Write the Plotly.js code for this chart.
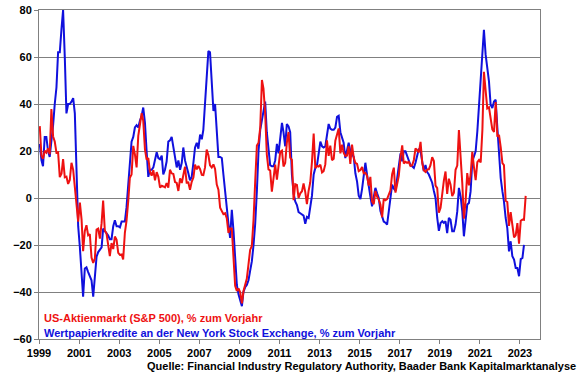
<!DOCTYPE html>
<html>
<head>
<meta charset="utf-8">
<script src="https://cdn.plot.ly/plotly-3.0.1.min.js"></script>
<style>
html,body{margin:0;padding:0;background:#fff;}
#chart{width:580px;height:375px;}
</style>
</head>
<body>
<div id="chart"></div>
<script>
// First month of both series
const startYear = 1999;
const startMonth = 1;

// US-Aktienmarkt (S&P 500), % zum Vorjahr — monthly, Jan 1999 .. Apr 2023
const spx = [
  30.6, 18.0, 16.7, 20.1, 19.3, 21.1, 18.6, 37.9, 26.2, 24.0, 19.3, 19.5,
  8.9, 10.3, 16.6, 8.8, 9.1, 6.0, 7.7, 15.0, 12.0, 4.8, -5.3, -10.1,
  -2.0, -9.2, -22.6, -14.0, -11.6, -15.9, -15.4, -25.3, -27.6, -25.8, -13.4, -13.0,
  -17.3, -10.7, -1.1, -13.9, -15.0, -19.1, -24.7, -19.2, -21.7, -16.4, -17.8, -23.3,
  -24.2, -24.0, -26.1, -14.8, -9.7, -1.5, 8.6, 10.0, 22.2, 18.6, 13.0, 26.4,
  32.1, 36.1, 32.8, 20.7, 16.3, 17.0, 11.3, 9.5, 11.9, 7.5, 11.0, 9.0,
  4.4, 5.2, 4.9, 4.5, 6.3, 4.4, 12.0, 10.5, 10.2, 6.8, 6.4, 3.0,
  8.4, 6.4, 9.7, 13.3, 6.5, 6.6, 3.5, 6.9, 8.7, 14.2, 12.2, 13.6,
  12.3, 9.8, 9.7, 13.0, 20.6, 18.3, 13.9, 13.0, 14.3, 12.4, 5.7, 3.5,
  -4.1, -5.4, -6.9, -6.5, -8.6, -14.8, -12.9, -13.0, -23.6, -37.4, -39.5, -38.5,
  -40.1, -44.8, -39.7, -37.0, -34.4, -28.2, -22.1, -20.4, -9.3, 6.9, 22.3, 23.5,
  30.0, 50.2, 46.5, 36.0, 18.5, 12.2, 11.7, 2.7, 7.9, 14.2, 7.8, 12.8,
  19.7, 20.2, 13.4, 14.9, 23.5, 28.1, 17.2, 16.2, -0.9, 5.9, 5.6, 0.0,
  2.0, 2.9, 6.2, 2.5, -2.6, 3.1, 6.7, 15.4, 27.4, 12.7, 13.6, 13.4,
  14.2, 10.9, 11.4, 14.3, 24.5, 17.9, 22.3, 16.1, 16.7, 24.4, 27.5, 29.6,
  19.0, 22.7, 19.3, 17.9, 18.0, 22.0, 14.5, 22.7, 17.2, 14.9, 14.5, 11.4,
  11.9, 13.2, 10.5, 10.7, 9.5, 5.3, 9.0, -1.5, -2.6, 3.0, 0.6, -0.7,
  -2.8, -8.2, -0.4, -1.0, -0.5, 1.7, 3.3, 10.1, 12.9, 2.3, 5.7, 9.5,
  17.5, 22.4, 14.7, 15.4, 15.0, 15.4, 13.6, 13.9, 16.2, 21.1, 20.4, 19.4,
  23.9, 14.8, 11.8, 11.1, 12.1, 12.2, 14.0, 17.4, 15.7, 5.3, 4.2, -6.2,
  -4.2, 2.6, 7.3, 11.3, 1.7, 8.2, 5.8, 0.8, 2.2, 12.0, 13.8, 28.9,
  19.3, 6.1, -8.8, -1.2, 10.6, 5.4, 9.8, 19.6, 13.0, 7.6, 15.3, 16.2,
  15.1, 29.0, 53.7, 43.6, 38.1, 38.6, 34.4, 29.2, 28.1, 40.8, 26.1, 26.9,
  21.6, 14.8, 14.0, -1.2, -1.7, -11.9, -6.0, -12.6, -16.8, -15.9, -10.7, -19.4,
  -9.7, -9.2, -9.3, 0.9
];

// Wertpapierkredite an der NYSE, % zum Vorjahr — monthly, Jan 1999 .. Mar 2023
const margin = [
  23, 16, 13.5, 26, 26, 20, 17.5, 24, 31, 40, 47, 62,
  62, 72, 80, 60, 36, 40, 40, 41, 42.5, 36, 15, -12,
  -21, -31, -42, -30, -29.5, -31.5, -33, -35, -42, -34, -25, -23,
  -22, -21, -13, -14, -15, -16, -17.5, -17.5, -12, -9.5, -12, -12,
  -12.5, -10, -10, -10, -4, 6, 18, 24, 26, 30, 31, 30,
  33, 35, 38.5, 32, 20, 9, 12, 12, 13, 16, 19.5, 17,
  16.5, 18, 10, 12, 15.5, 24, 24.5, 26, 22, 17, 13, 16,
  12, 15, 21.5, 16, 12.5, 10.5, 7.5, 9, 15, 21.5, 23.5, 21,
  27, 25, 29, 42, 55, 62.5, 62, 47, 37, 40, 28, 17.5,
  17.5, 17, 10, 2, -6, -11, -17, -5, -14, -25, -37, -41,
  -44, -46, -40, -38, -37, -35, -31, -27, -20, -11, 3, 20,
  29, 33, 37, 41, 28, 20, 14, 13.5, 13.5, 16, 23, 19,
  26, 32, 28, 22, 31.5, 30.5, 28, 10, 2, -1.5, -3, -6,
  -6.5, -7, -7.5, -11, -8, -8.5, -3, 1, 10, 12.8, 14, 20,
  24, 22, 21.5, 22, 26, 31.5, 29.5, 29, 29, 30, 34.5, 35,
  28, 25, 23.5, 17, 20, 23.5, 20, 19, 17.5, 10.5, 7, 1,
  -0.5, 4, 8.5, 15, 10, 4.5, 0.7, -3.5, 0, 4.3, 2, 0,
  -5.5, -8.5, -10, -10.5, -11.3, -5.7, 0, 5.7, 4, 3, 8.5, 15,
  19, 15.6, 19.9, 19.9, 18, 15.6, 14, 13.5, 12.8, 15, 17.7, 21,
  20, 16, 11.5, 14, 11, 10, 8.5, 6.5, 3, 0, -8.5, -14,
  -10.6, -9.9, -10.6, -9.9, -14.9, -8.5, -9.2, -14.2, -14.2, -11.3, -5.7, 4.3,
  0.7, -5.7, -16.3, -9.9, -2.8, -2.1, 2.8, 15.6, 17.7, 19.9, 28.4, 38.3,
  48.2, 58.2, 71.6, 61, 55.3, 49.6, 39.7, 38.3, 41.1, 41.8, 29.8, 19.9,
  8.5, 2.8, -1.4, -8.5, -12.8, -22.7, -18.4, -24.8, -26.2, -29.8, -29.8, -33.3,
  -26, -25.5, -19.9
];

const tickYears = ['1999','2001','2003','2005','2007','2009','2011','2013','2015','2017','2019','2021','2023'];
const legendLabels = [
  'US-Aktienmarkt (S&P 500), % zum Vorjahr',
  'Wertpapierkredite an der New York Stock Exchange, % zum Vorjahr'
];
const sourceText = 'Quelle: Financial Industry Regulatory Authority, Baader Bank Kapitalmarktanalyse';

function monthDates(n) {
  const out = [];
  for (let i = 0; i < n; i++) {
    const k = (startMonth - 1) + i;
    const y = startYear + Math.floor(k / 12);
    const m = (k % 12) + 1;
    out.push(y + '-' + String(m).padStart(2, '0') + '-15');
  }
  return out;
}

const RED = '#ee1111';
const BLUE = '#1010dd';
const FONT = '"Liberation Sans", Arial, sans-serif';

const traces = [
  {x: monthDates(margin.length), y: margin, type: 'scatter', mode: 'lines',
   line: {color: BLUE, width: 2}, name: legendLabels[1], hoverinfo: 'skip'},
  {x: monthDates(spx.length), y: spx, type: 'scatter', mode: 'lines',
   line: {color: RED, width: 2}, name: legendLabels[0], hoverinfo: 'skip'}
];

const layout = {
  width: 580, height: 375,
  margin: {l: 39, r: 40, t: 10, b: 36, pad: 0},
  paper_bgcolor: '#ffffff', plot_bgcolor: '#ffffff',
  showlegend: false,
  font: {family: FONT, size: 11, color: '#000'},
  xaxis: {
    type: 'date',
    range: ['1999-01-01', '2024-01-01'],
    tickmode: 'array',
    tickvals: tickYears.map(y => y + '-01-01'),
    ticktext: tickYears,
    ticks: 'outside', ticklen: 4, tickcolor: '#808080', tickwidth: 1,
    showgrid: false, zeroline: false,
    showline: true, linecolor: '#808080', linewidth: 1, mirror: true,
    tickfont: {family: FONT, size: 11, color: '#000', weight: 'bold'}
  },
  yaxis: {
    range: [-60, 80], dtick: 20, tick0: 0,
    ticks: 'outside', ticklen: 4, tickcolor: '#808080', tickwidth: 1,
    showgrid: true, gridcolor: '#808080', gridwidth: 1,
    zeroline: false,
    showline: true, linecolor: '#808080', linewidth: 1, mirror: true,
    tickfont: {family: FONT, size: 11, color: '#000', weight: 'bold'}
  },
  annotations: [
    {xref: 'paper', yref: 'paper', x: 0.005, y: 0.064, xanchor: 'left', yanchor: 'middle',
     text: legendLabels[0], showarrow: false,
     font: {family: FONT, size: 11, color: RED, weight: 'bold'}},
    {xref: 'paper', yref: 'paper', x: 0.005, y: 0.018, xanchor: 'left', yanchor: 'middle',
     text: legendLabels[1], showarrow: false,
     font: {family: FONT, size: 11, color: BLUE, weight: 'bold'}},
    {xref: 'paper', yref: 'paper', x: 1.076, y: -0.082, xanchor: 'right', yanchor: 'middle',
     text: sourceText, showarrow: false,
     font: {family: FONT, size: 11, color: '#000', weight: 'bold'}}
  ]
};

Plotly.newPlot('chart', traces, layout, {staticPlot: true, displayModeBar: false});
</script>
</body>
</html>
